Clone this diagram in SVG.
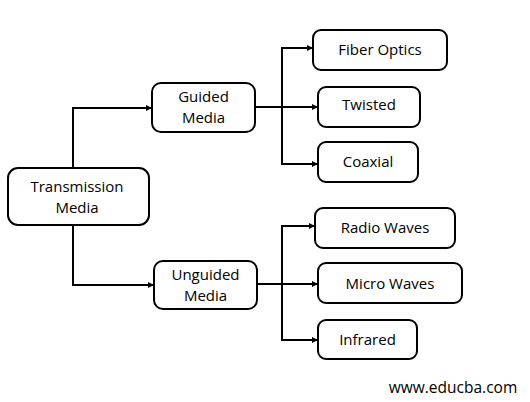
<svg xmlns="http://www.w3.org/2000/svg" width="530" height="402" viewBox="0 0 530 402">
<style>
.box{fill:#fff;stroke:#000;stroke-width:2}
.t{font-family:"Open Sans","Liberation Sans",sans-serif;font-size:15px;fill:#000;text-anchor:middle}
.c{fill:none;stroke:#000;stroke-width:2}
</style>
<defs>
<marker id="a" markerWidth="6" markerHeight="6" refX="5" refY="3" orient="auto" markerUnits="userSpaceOnUse">
<path d="M0,0 L6,3 L0,6 z" fill="#000"/>
</marker>
</defs>
<rect width="530" height="402" fill="#fff"/>
<g id="connectors">
<path class="c" d="M73,168 V108 H151" marker-end="url(#a)"/>
<path class="c" d="M73,225 V285 H153" marker-end="url(#a)"/>
<path class="c" d="M255,107 H317" marker-end="url(#a)"/>
<path class="c" d="M282,164 V48 H312" marker-end="url(#a)"/>
<path class="c" d="M282,48 V164 H317" marker-end="url(#a)"/>
<path class="c" d="M257,284 H317" marker-end="url(#a)"/>
<path class="c" d="M282,340 V226 H314" marker-end="url(#a)"/>
<path class="c" d="M282,226 V340 H317" marker-end="url(#a)"/>
</g>
<g id="transmission"><rect class="box" x="8" y="168" width="141" height="57" rx="10"/><text class="t" x="77" y="192">Transmission</text><text class="t" x="77" y="213">Media</text></g>
<g id="guided"><rect class="box" x="152" y="83" width="103" height="49" rx="9"/><text class="t" x="203.5" y="102">Guided</text><text class="t" x="203.5" y="123">Media</text></g>
<g id="unguided"><rect class="box" x="154" y="261" width="103" height="48" rx="9"/><text class="t" x="205.5" y="280">Unguided</text><text class="t" x="205.5" y="301">Media</text></g>
<g id="fiber"><rect class="box" x="313" y="30" width="134" height="40" rx="8"/><text class="t" x="380" y="55">Fiber Optics</text></g>
<g id="twisted"><rect class="box" x="318" y="87" width="102" height="40" rx="8"/><text class="t" x="369" y="110">Twisted</text></g>
<g id="coaxial"><rect class="box" x="318" y="142" width="100" height="40" rx="8"/><text class="t" x="368" y="167">Coaxial</text></g>
<g id="radio"><rect class="box" x="315" y="208" width="140" height="40" rx="8"/><text class="t" x="385" y="233">Radio Waves</text></g>
<g id="micro"><rect class="box" x="318" y="263" width="144" height="40" rx="8"/><text class="t" x="390" y="289">Micro Waves</text></g>
<g id="infrared"><rect class="box" x="318" y="320" width="99" height="39" rx="8"/><text class="t" x="367.5" y="345">Infrared</text></g>
<text x="453" y="393" style="font-family:'Open Sans','Liberation Sans',sans-serif;font-size:15.5px;fill:#000;text-anchor:middle">www.educba.com</text>
</svg>
